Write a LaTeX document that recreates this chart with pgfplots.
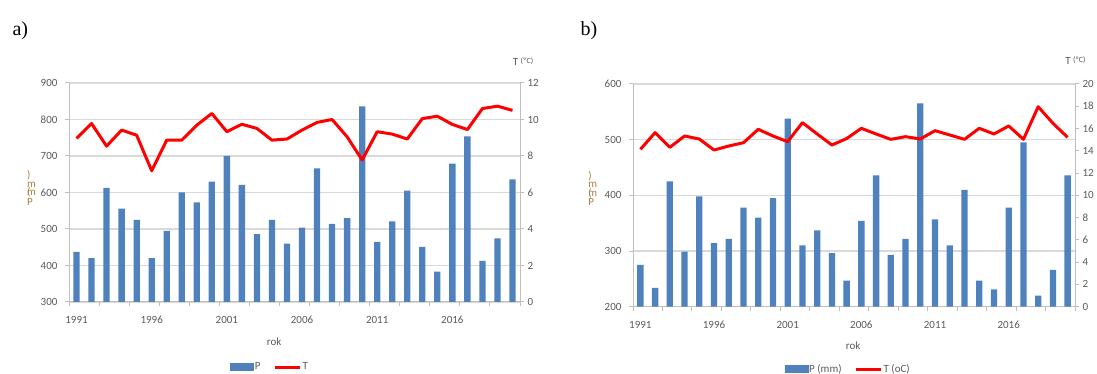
\documentclass[border=0pt]{standalone}
\usepackage{pgfplots}
\pgfplotsset{compat=1.18}
\usepackage{pgfplotstable}
\usepackage{fontspec}
\setmainfont{Carlito}
\newfontfamily\seriffont{Liberation Serif}
\definecolor{barblue}{HTML}{4F81BD}
\definecolor{gridgray}{HTML}{D9D9D9}
\definecolor{axgray}{HTML}{BFBFBF}
\definecolor{txtgray}{HTML}{595959}
\definecolor{ylabcol}{HTML}{A88040}

\pgfplotstableread{
i P T
0 437 8.96
1 420 9.78
2 613 8.54
3 556 9.42
4 525 9.14
5 420 7.19
6 495 8.87
7 600 8.87
8 573 9.69
9 630 10.33
10 700 9.33
11 621 9.74
12 486 9.51
13 525 8.87
14 460 8.93
15 504 9.42
16 666 9.84
17 514 10.0
18 530 9.05
19 836 7.78
20 465 9.33
21 521 9.2
22 605 8.93
23 451 10.05
24 383 10.18
25 679 9.73
26 754 9.45
27 413 10.6
28 474 10.73
29 636 10.5
}\dataA

\pgfplotstableread{
i P T
0 275 14.13
1 234 15.63
2 425 14.31
3 299 15.33
4 398 15.06
5 314 14.07
6 322 14.43
7 378 14.73
8 360 15.93
9 395 15.33
10 538 14.82
11 310 16.53
12 337 15.51
13 296 14.52
14 247 15.1
15 354 16.02
16 436 15.51
17 293 15.03
18 322 15.27
19 565 15.06
20 357 15.81
21 310 15.42
22 410 15.03
23 247 16.02
24 231 15.51
25 378 16.23
26 495 15.03
27 220 17.96
28 266 16.47
29 436 15.21
}\dataB

\pgfplotsset{
  exbase/.style={
    scale only axis, anchor=south west,
    clip mode=individual,
    xmin=-0.5, xmax=29.5,
    tick align=outside,
    every tick label/.append style={font=\fontsize{11}{11}\selectfont, text=txtgray},
    /pgf/number format/assume math mode=true,
    axis line style={axgray, line width=1pt},
    major tick style={axgray, line width=1pt},
    major tick length=4pt,
  },
  exleft/.style={
    exbase,
    axis x line*=bottom, axis y line*=left,
    ymajorgrids, grid style={gridgray, line width=1.3pt},
    xtick={-0.5,1.5,...,29.5}, xticklabels={},
    extra x ticks={0,5,10,15,20,25},
    extra x tick labels={1991,1996,2001,2006,2011,2016},
    extra x tick style={major tick length=0pt, grid=none, tick label style={yshift=-11pt}},
    yticklabel style={xshift=-4pt},
    ybar, bar width=6.3pt,
  },
  exright/.style={
    exbase,
    axis x line=none, axis y line*=right,
  },
}

\begin{document}
\begin{tikzpicture}
\useasboundingbox (0,0) rectangle (1097pt,374pt);

\node[anchor=base west, font=\seriffont\fontsize{20}{20}\selectfont] at (9pt,338.5pt) {a)};
\node[anchor=base west, font=\seriffont\fontsize{20}{20}\selectfont] at (577pt,338.5pt) {b)};

% ---------- panel a ----------
\begin{axis}[exleft, at={(69pt,72pt)}, width=451pt, height=219pt,
  ymin=300, ymax=900, ytick={300,400,...,900},
  xlabel={rok}, xlabel style={font=\fontsize{11}{11}\selectfont, text=txtgray, at={(axis description cs:0.455,-0.181)}, anchor=center},
]
\addplot[fill=barblue, draw=none] table[x=i, y=P] {\dataA};
\node[font=\fontsize{11}{8.5}\selectfont, text=ylabcol, align=left, inner sep=0pt] at (axis description cs:-0.083,0.52) {)\\m\\\makebox[0pt][l]{(}m\\P};
\end{axis}
\begin{axis}[exright, at={(69pt,72pt)}, width=451pt, height=219pt,
  ymin=0, ymax=12, ytick={0,2,...,12},
  legend columns=2,
  legend style={at={(axis description cs:0.445,-0.297)}, anchor=center, draw=none, fill=none,
    font=\fontsize{11}{11}\selectfont, text=txtgray, inner sep=0pt,
    nodes={inner sep=1pt},
    /tikz/every even column/.append style={column sep=12pt}},
]
\addlegendimage{legend image code/.code={\fill[barblue] (0pt,-3.5pt) rectangle (23pt,3.5pt);}}
\addlegendentry{P}
\addplot[red, line width=3pt, line join=round,
  legend image code/.code={\draw[red, line width=3pt] (0pt,0pt) -- (25pt,0pt);}] table[x=i, y=T] {\dataA};
\addlegendentry{T}
\node[font=\fontsize{11}{11}\selectfont, text=txtgray] at (axis description cs:1.0067,1.1) {T {\fontsize{8}{8}\selectfont\raisebox{2pt}{(ºC)}}};
\end{axis}

% ---------- panel b ----------
\begin{axis}[exleft, at={(633pt,67.3pt)}, width=442pt, height=222.7pt,
  ymin=200, ymax=600, ytick={200,300,...,600},
  xlabel={rok}, xlabel style={font=\fontsize{11}{11}\selectfont, text=txtgray, at={(axis description cs:0.498,-0.175)}, anchor=center},
]
\addplot[fill=barblue, draw=none] table[x=i, y=P] {\dataB};
\node[font=\fontsize{11}{8.5}\selectfont, text=ylabcol, align=left, inner sep=0pt] at (axis description cs:-0.091,0.53) {)\\m\\\makebox[0pt][l]{(}m\\P};
\end{axis}
\begin{axis}[exright, at={(633pt,67.3pt)}, width=442pt, height=222.7pt,
  ymin=0, ymax=20, ytick={0,2,...,20},
  legend columns=2,
  legend style={at={(axis description cs:0.486,-0.28)}, anchor=center, draw=none, fill=none,
    font=\fontsize{11}{11}\selectfont, text=txtgray, inner sep=0pt,
    nodes={inner sep=1pt},
    /tikz/every even column/.append style={column sep=12pt}},
]
\addlegendimage{legend image code/.code={\fill[barblue] (0pt,-3.5pt) rectangle (23pt,3.5pt);}}
\addlegendentry{P (mm)}
\addplot[red, line width=3pt, line join=round,
  legend image code/.code={\draw[red, line width=3pt] (0pt,0pt) -- (25pt,0pt);}] table[x=i, y=T] {\dataB};
\addlegendentry{T (oC)}
\node[font=\fontsize{11}{11}\selectfont, text=txtgray] at (axis description cs:1.001,1.103) {T {\fontsize{8}{8}\selectfont\raisebox{2pt}{(ºC)}}};
\end{axis}
\end{tikzpicture}
\end{document}
